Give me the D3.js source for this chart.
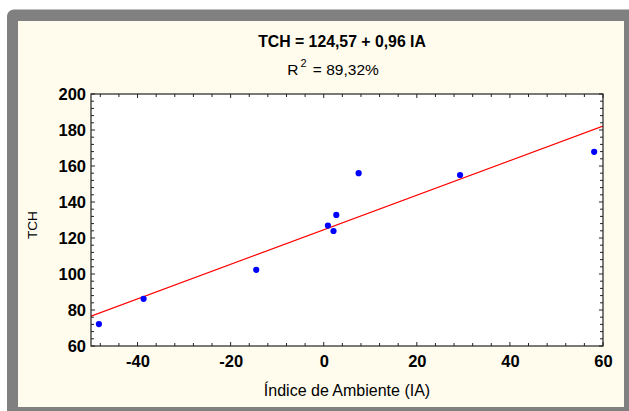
<!DOCTYPE html>
<html>
<head>
<meta charset="utf-8">
<script src="https://cdn.jsdelivr.net/npm/d3@7"></script>
<style>
  html, body { margin: 0; padding: 0; background: #ffffff; }
  svg { display: block; }
  text { font-family: "Liberation Sans", Arial, sans-serif; }
</style>
</head>
<body>
<svg id="chart" width="629" height="411"></svg>
<script>
// ---- data ----
const indiceAmbiente = [-48.3, -38.7, -14.5, 0.9, 2.1, 2.7, 7.5, 29.3, 58.1];
const tch            = [72.2, 86.2, 102.3, 126.9, 123.9, 132.8, 156.0, 155.0, 167.9];
const intercept = 124.57;
const slope = 0.96;
const xTicks = [-40, -20, 0, 20, 40, 60];
const yTicks = [60, 80, 100, 120, 140, 160, 180, 200];
const titleText = "TCH = 124,57 + 0,96 IA";
const r2Text = "89,32%";
const xLabel = "Índice de Ambiente (IA)";
const yLabel = "TCH";

const svg = d3.select("#chart");

// frame
svg.append("rect").attr("x", 7).attr("y", 9.5).attr("width", 640).attr("height", 420)
  .attr("rx", 7).attr("fill", "#808080");
svg.append("rect").attr("x", 18).attr("y", 21).attr("width", 606).attr("height", 386)
  .attr("fill", "#fffcee");

const plot = { left: 91, top: 94, right: 603, bottom: 346 };
const x = d3.scaleLinear().domain([-50, 60]).range([plot.left, plot.right]);
const y = d3.scaleLinear().domain([60, 200]).range([plot.bottom, plot.top]);

svg.append("rect").attr("x", plot.left).attr("y", plot.top)
  .attr("width", plot.right - plot.left).attr("height", plot.bottom - plot.top)
  .attr("fill", "#ffffff");

// clip
svg.append("clipPath").attr("id", "clip").append("rect")
  .attr("x", plot.left).attr("y", plot.top)
  .attr("width", plot.right - plot.left).attr("height", plot.bottom - plot.top);

// minor ticks (inward)
const xMinor = d3.range(-48, 61, 4);
const yMinor = d3.range(60, 201, 4);
const tickG = svg.append("g").attr("stroke", "#222").attr("stroke-width", 1);
xMinor.forEach(v => {
  const len = (v % 20 === 0) ? 4 : 3;
  tickG.append("line").attr("x1", x(v)).attr("x2", x(v)).attr("y1", plot.bottom).attr("y2", plot.bottom - len);
  tickG.append("line").attr("x1", x(v)).attr("x2", x(v)).attr("y1", plot.top).attr("y2", plot.top + len);
});
yMinor.forEach(v => {
  const len = (v % 20 === 0) ? 4 : 3;
  tickG.append("line").attr("y1", y(v)).attr("y2", y(v)).attr("x1", plot.left).attr("x2", plot.left + len);
  tickG.append("line").attr("y1", y(v)).attr("y2", y(v)).attr("x1", plot.right).attr("x2", plot.right - len);
});

// regression line
const lineGen = d3.line().x(d => x(d)).y(d => y(intercept + slope * d));
svg.append("path").datum([-50, 60]).attr("d", lineGen)
  .attr("clip-path", "url(#clip)")
  .attr("fill", "none").attr("stroke", "#ff0000").attr("stroke-width", 1.2);

// points
svg.append("g").selectAll("circle").data(indiceAmbiente).join("circle")
  .attr("cx", (d) => x(d)).attr("cy", (d, i) => y(tch[i]))
  .attr("r", 3.1).attr("fill", "#0000ff");

// plot border
svg.append("rect").attr("x", plot.left).attr("y", plot.top)
  .attr("width", plot.right - plot.left).attr("height", plot.bottom - plot.top)
  .attr("fill", "none").attr("stroke", "#222").attr("stroke-width", 1.2);

// axes labels via d3 axes (ticks hidden, labels only)
const fmt = d => String(d);
const xAxis = d3.axisBottom(x).tickValues(xTicks).tickSize(0).tickPadding(0).tickFormat(fmt);
const gx = svg.append("g").attr("transform", `translate(0,${plot.bottom})`).call(xAxis);
gx.select(".domain").remove();
gx.selectAll("text").attr("y", 21).attr("dy", 0)
  .attr("font-size", 16.5).attr("font-weight", "bold").attr("fill", "#000")
  .attr("font-family", "Liberation Sans, Arial, sans-serif");

const yAxis = d3.axisLeft(y).tickValues(yTicks).tickSize(0).tickPadding(0).tickFormat(fmt);
const gy = svg.append("g").attr("transform", `translate(${plot.left - 5},0)`).call(yAxis);
gy.select(".domain").remove();
gy.selectAll("text").attr("x", 0).attr("dy", "0.36em")
  .attr("font-size", 16.5).attr("font-weight", "bold").attr("fill", "#000")
  .attr("font-family", "Liberation Sans, Arial, sans-serif");

// titles
svg.append("text").attr("x", 342).attr("y", 47).attr("text-anchor", "middle")
  .attr("font-size", 15.8).attr("font-weight", "bold").text(titleText);
const r2 = svg.append("text").attr("x", 333).attr("y", 75).attr("text-anchor", "middle")
  .attr("font-size", 15.5);
r2.append("tspan").text("R");
r2.append("tspan").attr("font-size", 11).attr("dy", -8).attr("dx", 2).text("2");
r2.append("tspan").attr("dy", 8).attr("dx", 2).text(" = " + r2Text);

svg.append("text").attr("x", 347).attr("y", 396).attr("text-anchor", "middle")
  .attr("font-size", 16).text(xLabel);
svg.append("text").attr("transform", "translate(37,225) rotate(-90)")
  .attr("text-anchor", "middle").attr("font-size", 13.5).text(yLabel);
</script>
</body>
</html>
